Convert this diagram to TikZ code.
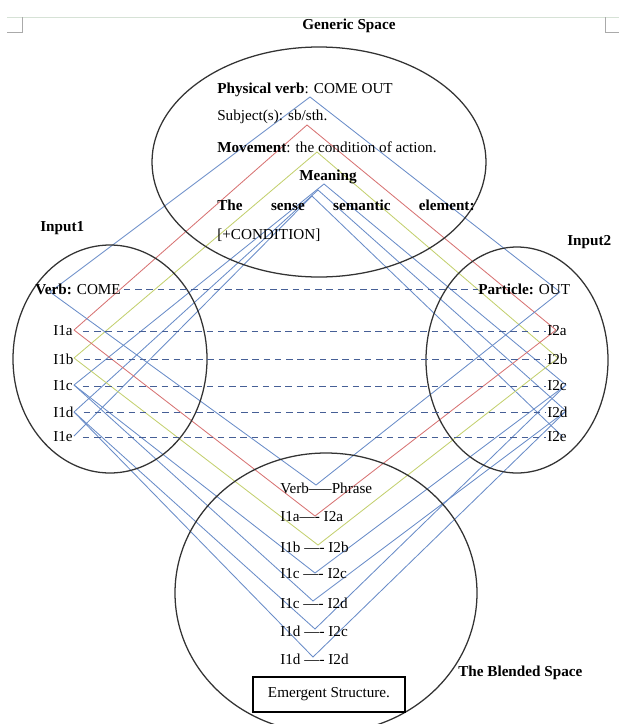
\documentclass[tikz,border=0pt]{standalone}
\usepackage{fontspec}
\setmainfont{Liberation Serif}
\usetikzlibrary{positioning}
\definecolor{linkblue}{RGB}{105,140,200}
\definecolor{linkred}{RGB}{215,115,115}
\definecolor{linkyellow}{RGB}{195,208,110}
\definecolor{dashblue}{RGB}{70,95,150}
\definecolor{pagegray}{RGB}{170,170,170}
\definecolor{pagelight}{RGB}{214,226,214}
\begin{document}
\begin{tikzpicture}[x=0.025cm,y=-0.025cm,
		every node/.style={font=\fontsize{10.8}{13}\selectfont, inner sep=0pt},
		txt/.style={anchor=west},
		spacering/.style={draw=black!80, line width=0.9pt},
		blue link/.style={linkblue, line width=0.6pt},
		red link/.style={linkred, line width=0.6pt},
		yellow link/.style={linkyellow, line width=0.6pt},
		mapline/.style={dashblue, dash pattern=on 4.6pt off 3.4pt, line width=0.65pt}]
	\useasboundingbox (0,0) rectangle (619,724);
	
	% page marks
	\draw[pagelight] (7,17) -- (619,17);
	\draw[pagegray] (7,32) -- (22,32) -- (22,17);
	\draw[pagegray] (605,17) -- (605,32) -- (619,32);
	
	% meeting points
	\coordinate (g0) at (310,97);
	\coordinate (g1) at (307,125);
	\coordinate (g2) at (317,152);
	\coordinate (g3) at (324,184);
	\coordinate (g4) at (318,190);
	\coordinate (g5) at (312,196);
	
	\coordinate (v1v) at (50,292);
	\foreach \n/\y in {a/330,b/358,c/385,d/412,e/436}
		\coordinate (v1\n) at (74,\y);
	\coordinate (v2v) at (560,292);
	\foreach \n/\x/\y in {a/556/330,b/558/358,c/566/385,d/566/411,e/563/437}
		\coordinate (v2\n) at (\x,\y);
	
	\coordinate (b0) at (316,485);
	\coordinate (b1) at (315,516);
	\coordinate (b2) at (318,545);
	\coordinate (b3) at (315,573);
	\coordinate (b4) at (313,601);
	\coordinate (b5) at (315,629);
	\coordinate (b6) at (313,657);
	
	% generic space to the inputs
	\draw[blue link] (v1v) -- (g0) -- (v2v);
	\draw[red link] (v1a) -- (g1) -- (v2a);
	\draw[yellow link] (v1b) -- (g2) -- (v2b);
	\foreach \g/\v in {g3/c,g4/d,g5/e}
		\draw[blue link] (v1\v) -- (\g) -- (v2\v);
	
	% inputs to the blended space
	\draw[blue link] (v1v) -- (b0) -- (v2v);
	\draw[red link] (v1a) -- (b1) -- (v2a);
	\draw[yellow link] (v1b) -- (b2) -- (v2b);
	\foreach \b/\l/\r in {b3/c/c,b4/c/d,b5/d/c,b6/d/d}
		\draw[blue link] (v1\l) -- (\b) -- (v2\r);
	
	% the four spaces
	\draw[spacering] (319,162) ellipse [x radius=167, y radius=115];
	\draw[spacering] (110,359) ellipse [x radius=97, y radius=114];
	\draw[spacering] (517,360) ellipse [x radius=91, y radius=113];
	\draw[spacering] (326,593) ellipse [x radius=151, y radius=140];
	
	% generic space
	\node[txt] (generic) at (302,26) {\textbf{Generic Space}};
	\node[txt] (physverb) at (217,90) {\textbf{Physical verb}: COME OUT};
	\node[txt] (subject) at (217,117) {Subject(s): sb/sth.};
	\node[txt] (movement) at (217,147) {\textbf{Movement}: the condition of action.};
	\node (meaning) at (328,177) {\textbf{Meaning}};
	\node[txt, text width=183pt] (sense) at (217,205) {\noindent\textbf{The\hfill sense\hfill semantic\hfill element:}};
	\node[txt] (condition) at (217,235) {[+CONDITION]};
	
	% input spaces
	\node[txt] (input1) at (40,228) {\textbf{Input1}};
	\node[txt] (input2) at (567,242) {\textbf{Input2}};
	\node[txt] (verb) at (35,289) {\textbf{Verb:} COME};
	\node[txt] (particle) at (478,289) {\textbf{Particle:} OUT};
	\foreach \n/\y in {a/331,b/359,c/386,d/412,e/437}{
		\node[txt] (i1\n) at (53,\y) {I1\n};
		\node[txt] (i2\n) at (547,\y) {I2\n};
	}
	
	% cross-space mappings
	\draw[mapline] ([xshift=2pt]verb.east) -- (particle.west);
	\foreach \n in {a,b,c,d,e}
		\draw[mapline] ([xshift=7pt]i1\n.east) -- ([xshift=-1pt]i2\n.west);
	
	% blended space
	\node[txt] (bl0) at (280,488) {Verb-----Phrase};
	\node[txt] (bl1) at (280,517) {I1a---- I2a};
	\node[txt] (bl2) at (280,547) {I1b ---- I2b};
	\node[txt] (bl3) at (280,574) {I1c ---- I2c};
	\node[txt] (bl4) at (280,603) {I1c ---- I2d};
	\node[txt] (bl5) at (280,631) {I1d ---- I2c};
	\node[txt] (bl6) at (280,659) {I1d ---- I2d};
	\node[draw, line width=0.9pt, minimum width=108pt, minimum height=25pt] (emergent) at (329,694.5) {Emergent Structure.};
	\node[txt] (blended) at (458,673) {\textbf{The Blended Space}};
\end{tikzpicture}
\end{document}
